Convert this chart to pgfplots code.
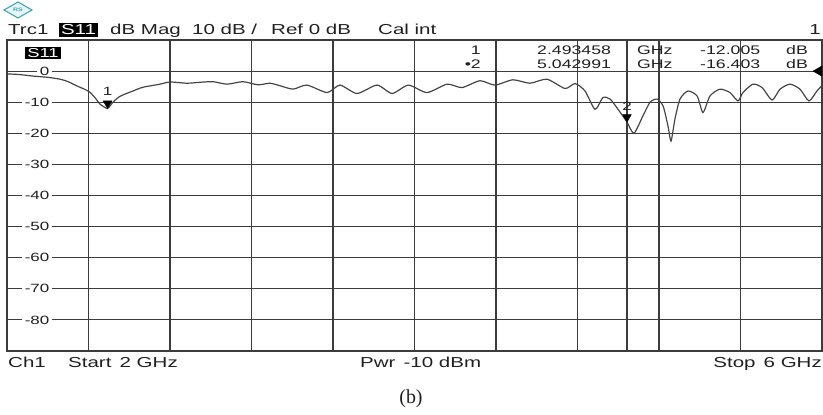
\documentclass[border=0pt]{standalone}
\usepackage{fontspec}
\setmainfont{Liberation Sans}[FakeStretch=1.42]
\newfontfamily\capfont{Liberation Serif}
\usepackage{pgfplots}
\pgfplotsset{compat=1.18}
\definecolor{gridc}{HTML}{3C3C3C}
\definecolor{tracec}{HTML}{454545}
\definecolor{txt}{HTML}{202020}
\definecolor{rsteal}{HTML}{3FA7B8}
\newcommand\hdr{\fontsize{14.5}{16}\selectfont}
\newcommand\rdo{\fontsize{12.5}{13}\selectfont}

\begin{document}
\begin{tikzpicture}
\path[use as bounding box] (0,0) rectangle (823bp,415bp);
\begin{axis}[
  at={(7bp,64bp)}, anchor=south west,
  scale only axis, width=815bp, height=311bp,
  xmin=2, xmax=6, ymin=-90, ymax=10,
  xtick={2.4,2.8,3.2,3.6,4.0,4.4,4.8,5.2,5.6},
  xticklabels={},
  extra x ticks={5.042991}, extra x tick labels={},
  extra x tick style={grid=major},
  ytick={-80,-70,-60,-50,-40,-30,-20,-10,0},
  yticklabels={-80,-70,-60,-50,-40,-30,-20,-10,0},
  grid=major,
  major grid style={gridc, line width=1.1bp},
  major tick length=0pt,
  axis line style={gridc, line width=1.3bp},
  yticklabel style={anchor=east, xshift=45bp, fill=white, inner xsep=2.5bp,
    inner ysep=0.5bp, text=txt, font=\fontsize{12}{13}\selectfont},
]
% S11 return loss trace, 2-6 GHz
\addplot[tracec, line width=1.2bp, smooth, tension=0.4] coordinates {
(2.000,-0.9) (2.060,-1.1) (2.128,-1.6) (2.200,-2.0) (2.260,-2.6) (2.300,-3.4)
(2.344,-4.8) (2.380,-5.8) (2.407,-6.8) (2.435,-8.8) (2.456,-10.6) (2.4935,-12.0)
(2.520,-10.0) (2.555,-8.1) (2.618,-6.4) (2.667,-5.2) (2.751,-4.2) (2.800,-3.5)
(2.883,-3.9) (2.947,-3.6) (3.011,-3.4) (3.080,-4.2) (3.158,-3.4) (3.232,-4.4)
(3.291,-3.9) (3.340,-4.7) (3.404,-5.8) (3.472,-4.5) (3.571,-6.9) (3.634,-4.5)
(3.718,-7.2) (3.816,-4.5) (3.890,-7.2) (3.970,-4.5) (4.061,-6.9) (4.160,-4.2)
(4.233,-5.3) (4.321,-3.1) (4.395,-4.5) (4.483,-2.8) (4.567,-3.9) (4.650,-2.6)
(4.739,-5.6) (4.788,-4.0) (4.837,-6.4) (4.886,-12.3) (4.925,-8.5) (4.960,-9.0)
(4.999,-12.3) (5.043,-16.4) (5.077,-20.0) (5.121,-14.4) (5.156,-10.0) (5.190,-9.0)
(5.220,-11.2) (5.244,-17.6) (5.259,-22.5) (5.278,-15.5) (5.303,-9.0) (5.342,-6.4)
(5.387,-8.0) (5.416,-13.3) (5.450,-8.0) (5.499,-5.8) (5.548,-6.9) (5.588,-9.6)
(5.612,-6.9) (5.661,-4.2) (5.706,-5.3) (5.755,-9.3) (5.794,-5.8) (5.843,-4.2)
(5.892,-5.8) (5.936,-9.6) (5.975,-6.4) (6.000,-4.7)
};
% markers 1 and 2
\addplot[only marks, mark=triangle*, mark size=5bp,
  mark options={yshift=5bp, rotate=180, fill=black, draw=black}]
  coordinates {(2.493458,-12.005) (5.042991,-16.403)};
% reference level indicator
\addplot[only marks, mark=triangle*, mark size=6bp,
  mark options={xshift=-3bp, rotate=90, fill=black, draw=black}]
  coordinates {(6,0)};
\node[text=txt, font=\fontsize{12}{13}\selectfont, yshift=17bp] at (axis cs:2.493458,-12.005) {1};
\node[text=txt, font=\fontsize{12}{13}\selectfont, yshift=16bp] at (axis cs:5.042991,-16.403) {2};
\end{axis}

% instrument logo
\draw[rsteal, line width=1.1bp, fill=rsteal!12] (4bp,405bp) -- (18bp,413bp) -- (32bp,405bp) -- (18bp,397bp) -- cycle;
\node[rsteal, font=\fontsize{5}{5}\selectfont\bfseries, inner sep=0pt] at (18bp,405bp) {RS};

% header line
\begin{scope}[every node/.style={anchor=base west, inner sep=0pt, text=txt, font=\hdr}]
\node at (8bp,380bp) {Trc1};
\node at (110bp,380bp) {dB Mag};
\node at (192bp,380bp) {10 dB /};
\node at (271bp,380bp) {Ref 0 dB};
\node at (378bp,380bp) {Cal int};
\node[anchor=base east] at (821bp,380bp) {1};
\end{scope}
\node[fill=black, text=white, font=\hdr, inner xsep=2bp, inner ysep=1.5bp, anchor=center] at (78.5bp,385bp) {S11};
\node[fill=black, text=white, font=\fontsize{13}{14}\selectfont, inner xsep=2bp, inner ysep=1.5bp, anchor=center] at (43bp,362bp) {S11};

% marker readout
\begin{scope}[every node/.style={anchor=base west, inner sep=0pt, text=txt, font=\rdo}]
\node[anchor=base east] at (481bp,360bp) {1};
\node at (537bp,360bp) {2.493458};
\node at (637bp,360bp) {GHz};
\node at (700bp,360bp) {-12.005};
\node at (786bp,360bp) {dB};
\node[anchor=base east] at (481bp,346bp) {\textbullet2};
\node at (537bp,346bp) {5.042991};
\node at (637bp,346bp) {GHz};
\node at (700bp,346bp) {-16.403};
\node at (786bp,346bp) {dB};
\end{scope}

% footer line
\begin{scope}[every node/.style={anchor=base west, inner sep=0pt, text=txt, font=\hdr}]
\node at (8bp,47bp) {Ch1};
\node at (68bp,47bp) {Start\, 2 GHz};
\node at (360bp,47bp) {Pwr\, -10 dBm};
\node[anchor=base east] at (822bp,47bp) {Stop\, 6 GHz};
\end{scope}
\node[text=txt, font=\capfont\fontsize{20}{22}\selectfont] at (411bp,16bp) {(b)};
\end{tikzpicture}
\end{document}
